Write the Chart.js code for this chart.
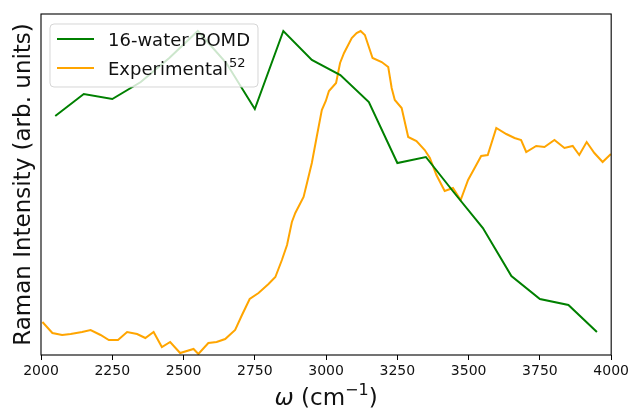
<!DOCTYPE html>
<html>
<head>
<meta charset="utf-8">
<script src="https://cdn.jsdelivr.net/npm/chart.js@4"></script>
<style>
  html, body { margin: 0; padding: 0; background: #fff; }
  #wrap { width: 632px; height: 410px; }
</style>
</head>
<body>
<div id="wrap"><canvas id="raman" width="632" height="410"></canvas></div>
<script>
// 16-water BOMD spectrum (arbitrary units)
const bomdX = [2050, 2150, 2250, 2350, 2450, 2550, 2650, 2750, 2850, 2950,
               3050, 3150, 3250, 3350, 3450, 3550, 3650, 3750, 3850, 3950];
const bomdY = [239, 261, 256, 273, 297, 324, 292, 246, 324, 295,
               280, 253, 192, 198, 162, 127, 79, 56, 50, 23];

// experimental spectrum, ref. 52
const expX = [2005, 2040, 2074, 2104, 2144, 2174, 2209, 2238, 2270, 2302,
              2337, 2366, 2395, 2424, 2453, 2488, 2535, 2552, 2587, 2616,
              2646, 2681, 2705, 2732, 2763, 2798, 2822, 2845, 2863, 2880,
              2892, 2921, 2933, 2950, 2967, 2985, 2999, 3010, 3035, 3049,
              3063, 3090, 3107, 3121, 3136, 3163, 3195, 3218, 3230, 3241,
              3265, 3288, 3317, 3346, 3364, 3387, 3416, 3445, 3472, 3498,
              3521, 3544, 3567, 3597, 3632, 3661, 3684, 3702, 3737, 3766,
              3801, 3836, 3865, 3888, 3914, 3941, 3970, 3999];
const expY = [33, 22, 20, 21, 23, 25, 20, 15, 15, 23,
              21, 17, 23, 8, 13, 2, 6, 1, 12, 13,
              16, 25, 40, 56, 62, 71, 78, 95, 110, 133,
              142, 158, 172, 192, 218, 245, 254, 264, 272, 292,
              302, 317, 322, 324, 320, 297, 293, 288, 267, 255,
              247, 218, 214, 205, 197, 180, 164, 167, 155, 175,
              187, 199, 200, 227, 221, 217, 215, 203, 209, 208,
              215, 207, 209, 200, 213, 202, 193, 201];

const xTicks = [2000, 2250, 2500, 2750, 3000, 3250, 3500, 3750, 4000];
const seriesLabels = ['16-water BOMD', 'Experimental'];
const seriesSup = ['', '52'];
const seriesColors = ['#008000', '#ffa500'];

const toPoints = (xs, ys) => xs.map((x, i) => ({ x: x, y: ys[i] }));
const FONT = '"DejaVu Sans"';

// matplotlib-like frame, x label with mathtext and legend drawn over the lines
const framePlugin = {
  id: 'frameAndLegend',
  afterDatasetsDraw(chart) {
    const { ctx, chartArea: a } = chart;
    ctx.save();
    ctx.strokeStyle = '#000';
    ctx.lineWidth = 1.1;
    ctx.strokeRect(a.left, a.top, a.right - a.left, a.bottom - a.top);

    // legend
    const bx = a.left + 9, by = a.top + 10, bw = 208, bh = 63, r = 4;
    ctx.beginPath();
    ctx.roundRect(bx, by, bw, bh, r);
    ctx.fillStyle = 'rgba(255,255,255,0.8)';
    ctx.fill();
    ctx.strokeStyle = 'rgba(204,204,204,0.8)';
    ctx.lineWidth = 1;
    ctx.stroke();

    ctx.textBaseline = 'alphabetic';
    chart.data.datasets.forEach((ds, i) => {
      const ly = by + 15 + i * 29;
      ctx.beginPath();
      ctx.moveTo(bx + 7, ly);
      ctx.lineTo(bx + 44, ly);
      ctx.strokeStyle = ds.borderColor;
      ctx.lineWidth = 2;
      ctx.stroke();
      ctx.fillStyle = '#111';
      ctx.font = '18px ' + FONT;
      ctx.fillText(ds.label, bx + 58, ly + 7);
      if (seriesSup[i]) {
        const w = ctx.measureText(ds.label).width;
        ctx.font = '13px ' + FONT;
        ctx.fillText(seriesSup[i], bx + 58 + w + 1, ly - 1);
      }
    });

    // x axis label: omega (cm^-1)
    const parts = [
      { t: '\u03c9', f: 'italic 23px ' + FONT, dy: 0 },
      { t: ' (cm', f: '23px ' + FONT, dy: 0 },
      { t: '\u22121', f: '16px ' + FONT, dy: -10 },
      { t: ')', f: '23px ' + FONT, dy: 0 }
    ];
    let total = 0;
    parts.forEach(p => { ctx.font = p.f; p.w = ctx.measureText(p.t).width; total += p.w; });
    let x = (a.left + a.right) / 2 - total / 2;
    const base = 405;
    ctx.fillStyle = '#111';
    parts.forEach(p => { ctx.font = p.f; ctx.fillText(p.t, x, base + p.dy); x += p.w; });
    ctx.restore();
  }
};

new Chart(document.getElementById('raman'), {
  type: 'line',
  data: {
    datasets: [
      { label: seriesLabels[0], data: toPoints(bomdX, bomdY),
        borderColor: seriesColors[0], borderWidth: 2, pointRadius: 0, tension: 0 },
      { label: seriesLabels[1], data: toPoints(expX, expY),
        borderColor: seriesColors[1], borderWidth: 2, pointRadius: 0, tension: 0 }
    ]
  },
  plugins: [framePlugin],
  options: {
    responsive: false,
    animation: false,
    devicePixelRatio: 1,
    layout: { padding: { top: 14, right: 20, left: 0, bottom: 0 } },
    plugins: { legend: { display: false }, tooltip: { enabled: false } },
    scales: {
      x: {
        type: 'linear',
        min: 2000,
        max: 4000,
        afterBuildTicks: (s) => { s.ticks = xTicks.map(v => ({ value: v })); },
        afterFit: (s) => { s.height = 55; },
        ticks: {
          color: '#111',
          padding: 3,
          font: { family: 'DejaVu Sans', size: 14 },
          callback: (v) => String(v)
        },
        grid: { drawOnChartArea: false, drawTicks: true, tickLength: 5, color: '#000', lineWidth: 1 },
        border: { display: false },
        title: { display: false }
      },
      y: {
        min: 0,
        max: 341,
        afterFit: (s) => { s.width = 41; },
        ticks: { display: false },
        grid: { display: false },
        border: { display: false },
        title: {
          display: true,
          text: 'Raman Intensity (arb. units)',
          color: '#111',
          font: { family: 'DejaVu Sans', size: 23, lineHeight: 1.2 },
          padding: { top: 10, bottom: 0 }
        }
      }
    }
  }
});
</script>
</body>
</html>
